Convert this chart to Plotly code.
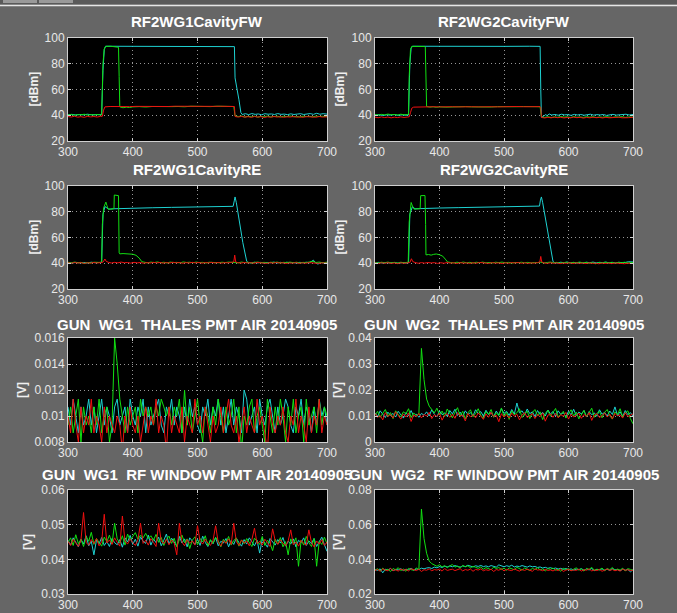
import plotly.graph_objects as go

# ---------------- data ----------------
TITLES = ["RF2WG1CavityFW", "RF2WG2CavityFW", "RF2WG1CavityRE", "RF2WG2CavityRE",
          "GUN\u00a0 WG1\u00a0 THALES PMT AIR 20140905", "GUN\u00a0 WG2\u00a0 THALES PMT AIR 20140905",
          "GUN\u00a0 WG1\u00a0 RF WINDOW PMT AIR 20140905", "GUN\u00a0 WG2\u00a0 RF WINDOW PMT AIR 20140905"]
YLABELS = ["[dBm]", "[dBm]", "[dBm]", "[dBm]", "[V]", "[V]", "[V]", "[V]"]
X_TICKS = [300, 400, 500, 600, 700]
Y_TICKS = [
    ([20, 40, 60, 80, 100], ["20", "40", "60", "80", "100"]),
    ([20, 40, 60, 80, 100], ["20", "40", "60", "80", "100"]),
    ([20, 40, 60, 80, 100], ["20", "40", "60", "80", "100"]),
    ([20, 40, 60, 80, 100], ["20", "40", "60", "80", "100"]),
    ([0.008, 0.010, 0.012, 0.014, 0.016], ["0.008", "0.01", "0.012", "0.014", "0.016"]),
    ([0, 0.01, 0.02, 0.03, 0.04], ["0", "0.01", "0.02", "0.03", "0.04"]),
    ([0.03, 0.04, 0.05, 0.06], ["0.03", "0.04", "0.05", "0.06"]),
    ([0.02, 0.04, 0.06, 0.08], ["0.02", "0.04", "0.06", "0.08"]),
]

# (time, value) samples for the cavity signals
FW1_CYAN = [(300,40.4),(306,40.7),(312,40.2),(318,40.6),(324,40.3),(330,40.8),(336,40.4),(342,40.6),(348,40.3),(352,40.5),(354,75),(356,91),(358,93.6),(380,93.6),(420,93.5),(460,93.6),(500,93.5),(540,93.5),(556,93.5),(557,93.3),(558,69),(560,62),(561,59),(564,52),(567,42),(569,40.6),(574,41.2),(579,40.5),(584,41.3),(589,40.7),(594,41.0),(599,40.4),(604,41.2),(609,40.8),(614,41.0),(619,40.6),(624,41.3),(629,40.7),(634,40.9),(639,40.5),(644,41.1),(649,40.6),(654,40.9),(659,41.2),(664,40.6),(669,40.9),(674,41.3),(679,40.7),(684,41.5),(689,40.8),(694,41.2),(700,40.9)]
FW1_GREEN = [(300,40.2),(305,40.6),(310,40.0),(315,40.5),(320,40.3),(325,40.8),(330,40.1),(335,40.5),(340,40.2),(345,40.6),(350,40.3),(352,40.4),(353,60),(354,80),(356,91.5),(358,93.5),(366,93.6),(372,93.4),(377,93.2),(378,92.8),(379,70),(380,46.5),(385,45.8),(390,46.3),(395,46.0),(400,46.5),(410,46.7),(420,46.4),(430,46.8),(440,46.6),(450,46.9),(460,46.7),(470,46.8),(480,46.6),(490,47.0),(500,46.8),(510,46.9),(520,46.7),(530,47.0),(540,46.8),(550,46.9),(556,46.8),(558,39.5),(563,39.0),(568,39.4),(573,38.6),(578,39.2),(583,38.8),(588,39.3),(593,38.5),(598,39.1),(603,38.8),(608,39.4),(613,38.7),(618,39.0),(623,39.3),(628,38.6),(633,39.2),(638,38.9),(643,39.5),(648,38.8),(653,39.1),(658,38.6),(663,39.3),(668,38.9),(673,39.2),(678,38.7),(683,39.4),(688,39.0),(693,39.2),(700,38.9)]
FW1_RED = [(300,39.0),(305,38.6),(310,39.2),(315,38.5),(320,38.9),(325,38.4),(330,39.1),(335,38.7),(340,39.0),(345,38.6),(350,39.1),(353,39.2),(355,44),(357,46.5),(365,46.8),(375,46.6),(385,46.8),(395,46.7),(405,46.9),(415,46.8),(425,47.0),(435,46.8),(445,46.9),(455,46.8),(465,47.0),(475,46.9),(485,46.8),(495,47.0),(505,46.9),(515,47.0),(525,46.9),(535,47.0),(545,46.9),(556,47.0),(557,46.8),(558,39.0),(563,38.6),(568,39.1),(573,38.5),(578,38.9),(583,38.4),(588,39.0),(593,38.6),(598,38.9),(603,38.3),(608,38.8),(613,38.5),(618,39.0),(623,38.6),(628,38.9),(633,38.4),(638,38.8),(643,38.6),(648,39.0),(653,38.5),(658,38.8),(663,38.4),(668,38.9),(673,38.6),(678,38.8),(683,38.5),(688,39.0),(693,38.6),(700,38.8)]

FW2_CYAN = [(300,40.0),(306,40.4),(312,39.8),(318,40.3),(324,40.1),(330,40.5),(336,39.9),(342,40.3),(348,40.0),(352,40.2),(354,80),(356,92),(358,93.6),(380,93.5),(420,93.6),(460,93.5),(500,93.5),(540,93.6),(556,93.5),(557,60),(558,38.5),(561,39.0),(564,40.5),(567,39.8),(570,41.0),(574,40.2),(579,40.6),(584,40.0),(589,40.8),(594,40.3),(599,40.5),(604,39.9),(609,40.7),(614,40.2),(619,40.6),(624,40.0),(629,40.4),(634,40.8),(639,40.1),(644,40.5),(649,40.2),(654,40.6),(659,39.9),(664,40.4),(669,40.7),(674,40.1),(679,40.5),(684,40.3),(689,40.8),(694,40.2),(700,40.6)]
FW2_GREEN = [(300,40.5),(305,40.1),(310,40.7),(315,40.3),(320,40.9),(325,40.4),(330,40.6),(335,40.2),(340,40.8),(345,40.4),(350,40.6),(352,40.8),(353,70),(355,91),(357,93.5),(365,93.6),(372,93.5),(377,93.4),(378,93.0),(379,70),(380,46.8),(385,46.3),(390,46.6),(395,46.2),(400,46.5),(410,46.3),(420,46.6),(430,46.4),(440,46.7),(450,46.5),(460,46.3),(470,46.6),(480,46.4),(490,46.7),(500,46.5),(510,46.3),(520,46.6),(530,46.8),(540,46.5),(550,46.7),(556,46.6),(558,38.8),(563,38.3),(568,38.9),(573,38.2),(578,38.7),(583,38.4),(588,39.0),(593,38.5),(598,38.8),(603,38.2),(608,38.9),(613,38.4),(618,38.7),(623,38.3),(628,38.9),(633,38.5),(638,38.8),(643,38.2),(648,38.7),(653,38.4),(658,38.9),(663,38.6),(668,38.3),(673,38.8),(678,38.5),(683,38.9),(688,38.3),(693,38.7),(700,38.5)]
FW2_RED = [(300,38.5),(305,38.1),(310,38.7),(315,38.2),(320,38.6),(325,38.0),(330,38.5),(335,38.2),(340,38.7),(345,38.3),(350,38.6),(353,38.8),(355,42),(357,45.5),(360,46.3),(370,46.5),(380,46.4),(390,46.6),(400,46.5),(410,46.7),(420,46.6),(430,46.5),(440,46.7),(450,46.6),(460,46.5),(470,46.7),(480,46.6),(490,46.5),(500,46.7),(510,46.6),(520,46.8),(530,46.6),(540,46.7),(550,46.6),(556,46.7),(557,46.0),(558,38.3),(563,37.9),(568,38.4),(573,38.0),(578,38.5),(583,38.1),(588,38.4),(593,37.9),(598,38.3),(603,38.0),(608,38.5),(613,38.1),(618,38.4),(623,37.8),(628,38.3),(633,38.0),(638,38.5),(643,38.1),(648,38.3),(653,37.9),(658,38.4),(663,38.0),(668,38.3),(673,38.1),(678,38.5),(683,38.0),(688,38.3),(693,38.1),(700,38.4)]

RE1_CYAN = [(300,40.5),(306,40.1),(312,40.7),(318,40.3),(324,40.6),(330,40.2),(336,40.8),(342,40.4),(348,40.6),(352,40.8),(354,78),(357,84),(360,83),(363,82),(370,82.3),(380,82.5),(400,82.8),(430,83.1),(460,83.4),(490,83.6),(520,83.8),(550,84.0),(555,84.2),(557,89),(558,91.5),(560,87),(565,71),(570,56),(576,41.5),(578,40.6),(583,40.2),(588,40.8),(593,40.3),(598,40.7),(603,40.1),(608,40.6),(613,40.4),(618,40.9),(623,40.2),(628,40.7),(633,40.3),(638,40.8),(643,40.4),(648,40.6),(653,40.1),(658,40.7),(663,40.3),(668,40.8),(673,40.4),(679,42.4),(682,40.5),(686,39.3),(690,40.6),(695,40.3),(700,40.7)]
RE1_GREEN = [(300,40.8),(305,40.3),(310,40.9),(315,40.4),(320,40.7),(325,39.8),(330,40.6),(335,40.2),(340,40.8),(345,40.5),(350,40.6),(352,41),(353,70),(355,83),(357,86.5),(358.5,87.5),(360,85),(362,82),(366,82),(371,82.4),(371.5,93),(377,93),(378,92.5),(379,48),(380,47.3),(385,47.5),(390,47.3),(395,47.4),(400,47.0),(405,46.2),(410,44.0),(414,41.2),(418,40.8),(423,40.3),(428,40.9),(433,40.5),(438,41.0),(443,40.4),(448,40.8),(453,40.2),(458,40.9),(463,40.5),(468,40.7),(473,40.3),(478,41.0),(483,40.6),(488,40.8),(493,40.4),(498,40.9),(503,40.5),(508,40.7),(513,40.2),(518,40.8),(523,40.6),(528,40.9),(533,40.4),(538,40.8),(543,40.5),(548,40.9),(553,40.6),(558,40.8),(563,40.3),(568,40.9),(573,40.5),(578,40.8),(583,40.2),(588,40.6),(593,40.9),(598,40.4),(603,40.7),(608,40.2),(613,40.8),(618,40.5),(623,40.9),(628,40.3),(633,40.7),(638,40.5),(643,40.9),(648,40.4),(653,40.8),(658,40.2),(663,40.7),(668,40.5),(673,40.9),(678,41.5),(683,40.6),(688,40.9),(693,40.4),(700,40.8)]
RE1_RED = [(300,40.4),(305,40.0),(310,40.6),(315,40.2),(320,40.5),(325,39.9),(330,40.4),(335,40.1),(340,40.6),(345,40.2),(350,40.5),(354,40.8),(357,43.3),(359,41.5),(362,40.8),(367,40.2),(372,40.7),(377,40.3),(382,40.9),(387,40.4),(392,40.6),(397,40.1),(402,40.7),(407,40.3),(412,40.6),(417,40.0),(422,40.5),(427,40.2),(432,40.7),(437,40.3),(442,40.6),(447,40.1),(452,40.5),(457,40.2),(462,40.8),(467,40.3),(472,40.6),(477,40.0),(482,40.5),(487,40.2),(492,40.7),(497,40.3),(502,40.6),(507,40.1),(512,40.5),(517,40.3),(522,40.7),(527,40.2),(532,40.6),(537,40.1),(542,40.5),(547,40.3),(552,40.7),(556,41),(557.5,46.3),(559,41),(562,40.5),(567,40.1),(572,40.6),(577,40.2),(582,40.5),(587,40.0),(592,40.6),(597,40.2),(602,40.4),(607,39.9),(612,40.5),(617,40.1),(622,40.6),(627,40.2),(632,40.4),(637,39.8),(642,40.3),(647,40.1),(652,40.5),(657,39.9),(662,40.4),(667,40.0),(672,40.5),(677,40.2),(682,40.4),(687,39.9),(692,40.3),(700,40.1)]

RE2_CYAN = [(300,40.3),(306,40.7),(312,40.1),(318,40.5),(324,40.2),(330,40.6),(336,40.0),(342,40.5),(348,40.2),(352,40.4),(354,78),(358,84),(362,82.3),(370,82.5),(380,82.6),(400,82.9),(430,83.2),(460,83.5),(490,83.8),(520,84.0),(550,84.2),(555,84.4),(556.5,89),(558,91.5),(560,87),(565,72),(570,57),(576,41.3),(578,40.6),(583,40.2),(588,40.8),(593,40.4),(598,40.9),(603,40.3),(608,40.7),(613,40.2),(618,40.6),(623,40.1),(628,40.8),(633,40.4),(638,40.9),(643,40.3),(648,40.7),(653,40.5),(658,40.9),(663,40.3),(668,40.7),(673,40.2),(678,40.8),(683,40.4),(688,40.6),(693,41.2),(700,41.0)]
RE2_GREEN = [(300,40.6),(305,40.2),(310,40.8),(315,40.4),(320,40.9),(325,40.3),(330,40.7),(335,40.1),(340,40.8),(345,40.4),(350,40.7),(351.5,41),(353,72),(354.5,84),(356,87.2),(358,84.5),(360.5,82),(365,82.2),(370,82.4),(370.8,92.5),(377.5,92.6),(378.5,70),(379,46.5),(383,46.8),(387,46.3),(391,46.9),(395,47.2),(400,46.6),(405,45.5),(409,43.2),(412.5,41),(417,40.6),(422,40.2),(427,40.8),(432,40.4),(437,40.9),(442,40.3),(447,40.7),(452,40.1),(457,40.8),(462,40.4),(467,40.9),(472,40.3),(477,40.6),(482,40.2),(487,40.8),(492,40.5),(497,40.9),(502,40.3),(507,40.7),(512,40.1),(517,40.6),(522,40.4),(527,40.8),(532,40.3),(537,40.7),(542,40.2),(547,40.6),(552,40.4),(557,40.8),(562,40.2),(567,40.6),(572,40.9),(577,40.3),(582,40.7),(587,40.1),(592,40.5),(597,40.8),(602,40.2),(607,40.6),(612,40.3),(617,40.9),(622,40.4),(627,40.7),(632,40.1),(637,40.5),(642,39.6),(647,40.6),(652,40.2),(657,40.8),(662,40.3),(667,40.7),(672,40.1),(677,40.6),(682,40.4),(687,40.8),(692,40.2),(700,40.6)]
RE2_RED = [(300,40.2),(305,39.8),(310,40.4),(315,40.0),(320,40.5),(325,39.9),(330,40.3),(335,39.7),(340,40.4),(345,40.0),(350,40.3),(354,40.6),(356.5,43.5),(358.5,41.3),(362,40.6),(367,40.0),(372,40.5),(377,40.1),(382,40.6),(387,40.2),(392,40.5),(397,39.9),(402,40.4),(407,40.0),(412,40.6),(417,40.1),(422,40.4),(427,39.8),(432,40.5),(437,40.1),(442,40.3),(447,39.9),(452,40.4),(457,40.0),(462,40.6),(467,40.2),(472,40.4),(477,39.9),(482,40.5),(487,40.1),(492,40.3),(497,39.8),(502,40.4),(507,40.0),(512,40.5),(517,40.2),(522,40.6),(527,40.0),(532,40.4),(537,39.9),(542,40.3),(547,40.1),(552,40.5),(555.5,41),(557,45.3),(558.5,41),(562,40.3),(567,39.9),(572,40.4),(577,40.0),(582,40.3),(587,39.7),(592,40.2),(597,39.9),(602,40.4),(607,39.8),(612,40.3),(617,39.9),(622,40.2),(627,39.7),(632,40.3),(637,39.9),(642,40.1),(647,39.6),(652,40.2),(657,39.8),(662,40.1),(667,39.7),(672,40.2),(677,39.9),(682,40.1),(687,39.6),(692,40.0),(700,39.8)]

# PMT signals sampled every 4 time units from 300 to 700
PMT_T = list(range(300, 701, 4))

TH1_CYAN = [0.0107,0.0093,0.0113,0.0100,0.0087,0.0107,0.0093,0.0100,0.0113,0.0093,
            0.0107,0.0087,0.0100,0.0113,0.0093,0.0107,0.0100,0.0087,0.0107,0.0113,
            0.0093,0.0100,0.0107,0.0087,0.0113,0.0100,0.0093,0.0107,0.0100,0.0113,
            0.0087,0.0107,0.0093,0.0100,0.0107,0.0113,0.0093,0.0087,0.0107,0.0100,
            0.0113,0.0093,0.0107,0.0100,0.0087,0.0107,0.0093,0.0113,0.0100,0.0107,
            0.0093,0.0087,0.0107,0.0100,0.0113,0.0093,0.0107,0.0100,0.0113,0.0093,
            0.0107,0.0087,0.0100,0.0113,0.0093,0.0107,0.0100,0.0087,0.0120,0.0113,
            0.0093,0.0100,0.0107,0.0087,0.0113,0.0100,0.0093,0.0107,0.0113,0.0100,
            0.0087,0.0107,0.0093,0.0100,0.0113,0.0107,0.0093,0.0087,0.0107,0.0100,
            0.0113,0.0093,0.0107,0.0100,0.0087,0.0107,0.0093,0.0113,0.0100,0.0107,0.0093]
TH1_GREEN = [0.0093,0.0107,0.0087,0.0100,0.0113,0.0080,0.0107,0.0093,0.0100,0.0087,
             0.0107,0.0093,0.0113,0.0087,0.0100,0.0107,0.0080,0.0093,0.0160,0.0140,
             0.0113,0.0100,0.0087,0.0107,0.0093,0.0100,0.0107,0.0087,0.0113,0.0100,
             0.0107,0.0100,0.0107,0.0093,0.0107,0.0100,0.0113,0.0107,0.0100,0.0107,
             0.0093,0.0107,0.0100,0.0113,0.0087,0.0120,0.0093,0.0107,0.0087,0.0100,
             0.0113,0.0093,0.0080,0.0107,0.0100,0.0087,0.0107,0.0093,0.0113,0.0100,
             0.0087,0.0107,0.0093,0.0100,0.0113,0.0087,0.0107,0.0073,0.0100,0.0093,
             0.0107,0.0113,0.0087,0.0100,0.0107,0.0093,0.0080,0.0113,0.0100,0.0087,
             0.0107,0.0093,0.0113,0.0100,0.0080,0.0107,0.0093,0.0113,0.0087,0.0100,
             0.0107,0.0080,0.0113,0.0093,0.0100,0.0107,0.0087,0.0113,0.0093,0.0107,0.0100]
TH1_RED = [0.0100,0.0087,0.0113,0.0093,0.0080,0.0107,0.0087,0.0100,0.0093,0.0113,
           0.0087,0.0100,0.0093,0.0080,0.0107,0.0087,0.0100,0.0093,0.0087,0.0100,
           0.0093,0.0073,0.0100,0.0087,0.0107,0.0093,0.0087,0.0100,0.0080,0.0093,
           0.0107,0.0087,0.0100,0.0093,0.0113,0.0087,0.0100,0.0093,0.0073,0.0107,
           0.0087,0.0100,0.0093,0.0087,0.0107,0.0080,0.0100,0.0093,0.0087,0.0113,
           0.0093,0.0100,0.0087,0.0107,0.0093,0.0080,0.0100,0.0087,0.0093,0.0107,
           0.0087,0.0100,0.0113,0.0093,0.0087,0.0100,0.0080,0.0093,0.0107,0.0087,
           0.0100,0.0093,0.0087,0.0113,0.0093,0.0100,0.0087,0.0073,0.0107,0.0093,
           0.0087,0.0100,0.0093,0.0107,0.0087,0.0080,0.0100,0.0093,0.0113,0.0087,
           0.0100,0.0093,0.0080,0.0107,0.0087,0.0100,0.0093,0.0113,0.0087,0.0100,0.0093]

TH2_CYAN = [0.0112,0.0098,0.0120,0.0105,0.0094,0.0115,0.0102,0.0110,0.0096,0.0118,
            0.0104,0.0092,0.0113,0.0100,0.0121,0.0098,0.0108,0.0095,0.0110,0.0103,
            0.0116,0.0100,0.0124,0.0107,0.0097,0.0119,0.0105,0.0112,0.0099,0.0121,
            0.0108,0.0126,0.0102,0.0115,0.0098,0.0120,0.0106,0.0113,0.0101,0.0124,
            0.0109,0.0117,0.0100,0.0122,0.0106,0.0113,0.0097,0.0119,0.0104,0.0128,
            0.0110,0.0118,0.0102,0.0125,0.0107,0.0150,0.0112,0.0120,0.0103,0.0127,
            0.0109,0.0116,0.0098,0.0121,0.0105,0.0114,0.0100,0.0123,0.0108,0.0117,
            0.0099,0.0120,0.0106,0.0113,0.0097,0.0118,0.0104,0.0126,0.0101,0.0115,
            0.0108,0.0121,0.0096,0.0117,0.0105,0.0112,0.0099,0.0124,0.0107,0.0114,
            0.0100,0.0119,0.0106,0.0135,0.0102,0.0116,0.0098,0.0121,0.0105,0.0113,0.0100]
TH2_GREEN = [0.0102,0.0118,0.0095,0.0110,0.0125,0.0099,0.0113,0.0090,0.0120,0.0105,
             0.0097,0.0116,0.0108,0.0128,0.0094,0.0112,0.0101,0.0108,0.0360,0.0240,
             0.0165,0.0138,0.0125,0.0112,0.0130,0.0104,0.0119,0.0098,0.0127,0.0108,
             0.0093,0.0115,0.0132,0.0100,0.0118,0.0089,0.0112,0.0124,0.0097,0.0110,
             0.0128,0.0103,0.0091,0.0117,0.0106,0.0125,0.0095,0.0113,0.0101,0.0131,
             0.0098,0.0115,0.0087,0.0120,0.0105,0.0112,0.0128,0.0094,0.0109,0.0119,
             0.0090,0.0113,0.0125,0.0101,0.0116,0.0086,0.0110,0.0122,0.0099,0.0114,
             0.0129,0.0096,0.0108,0.0118,0.0092,0.0111,0.0124,0.0100,0.0115,0.0089,
             0.0107,0.0121,0.0097,0.0112,0.0130,0.0095,0.0110,0.0118,0.0093,0.0114,
             0.0125,0.0101,0.0088,0.0116,0.0106,0.0128,0.0097,0.0111,0.0120,0.0090,0.0070]
TH2_RED = [0.0110,0.0095,0.0102,0.0085,0.0113,0.0098,0.0106,0.0092,0.0116,0.0100,
           0.0088,0.0108,0.0096,0.0112,0.0079,0.0104,0.0097,0.0110,0.0093,0.0106,
           0.0100,0.0114,0.0090,0.0105,0.0098,0.0111,0.0084,0.0103,0.0109,0.0095,
           0.0107,0.0091,0.0113,0.0099,0.0104,0.0081,0.0110,0.0096,0.0106,0.0093,
           0.0112,0.0100,0.0087,0.0108,0.0095,0.0114,0.0098,0.0103,0.0078,0.0109,
           0.0096,0.0105,0.0092,0.0111,0.0099,0.0107,0.0085,0.0104,0.0113,0.0094,
           0.0102,0.0109,0.0090,0.0106,0.0097,0.0112,0.0080,0.0103,0.0108,0.0095,
           0.0110,0.0093,0.0105,0.0099,0.0114,0.0088,0.0107,0.0096,0.0102,0.0111,
           0.0091,0.0106,0.0098,0.0113,0.0083,0.0104,0.0109,0.0094,0.0101,0.0112,
           0.0096,0.0107,0.0089,0.0110,0.0100,0.0105,0.0092,0.0113,0.0098,0.0103,0.0108]

RW1_CYAN = [0.0455,0.0441,0.0462,0.0447,0.0436,0.0458,0.0444,0.0468,0.0439,0.0452,
            0.0413,0.0456,0.0445,0.0463,0.0440,0.0451,0.0437,0.0460,0.0448,0.0442,
            0.0457,0.0435,0.0462,0.0450,0.0469,0.0443,0.0458,0.0438,0.0465,0.0452,
            0.0446,0.0470,0.0441,0.0459,0.0448,0.0464,0.0439,0.0455,0.0473,0.0444,
            0.0461,0.0450,0.0438,0.0466,0.0447,0.0459,0.0436,0.0462,0.0451,0.0443,
            0.0458,0.0440,0.0467,0.0449,0.0437,0.0455,0.0445,0.0463,0.0439,0.0452,
            0.0447,0.0460,0.0436,0.0454,0.0443,0.0461,0.0448,0.0438,0.0457,0.0444,
            0.0462,0.0450,0.0439,0.0455,0.0418,0.0458,0.0446,0.0435,0.0460,0.0449,
            0.0441,0.0457,0.0447,0.0463,0.0438,0.0452,0.0444,0.0459,0.0436,0.0455,
            0.0448,0.0462,0.0440,0.0453,0.0445,0.0460,0.0437,0.0451,0.0464,0.0442,0.0423]
RW1_GREEN = [0.0448,0.0462,0.0440,0.0471,0.0445,0.0458,0.0437,0.0466,0.0452,0.0478,
             0.0443,0.0460,0.0449,0.0438,0.0464,0.0451,0.0470,0.0445,0.0504,0.0459,
             0.0447,0.0468,0.0441,0.0473,0.0455,0.0466,0.0477,0.0458,0.0470,0.0462,
             0.0475,0.0460,0.0468,0.0455,0.0472,0.0449,0.0463,0.0440,0.0458,0.0467,
             0.0446,0.0461,0.0436,0.0457,0.0470,0.0448,0.0459,0.0431,0.0455,0.0465,
             0.0442,0.0460,0.0450,0.0468,0.0439,0.0457,0.0446,0.0463,0.0453,0.0436,
             0.0458,0.0447,0.0466,0.0441,0.0454,0.0462,0.0438,0.0456,0.0445,0.0460,
             0.0449,0.0437,0.0461,0.0452,0.0443,0.0466,0.0440,0.0455,0.0447,0.0425,
             0.0458,0.0444,0.0463,0.0436,0.0451,0.0413,0.0459,0.0446,0.0462,0.0380,
             0.0455,0.0441,0.0466,0.0448,0.0437,0.0460,0.0380,0.0452,0.0443,0.0464,0.0445]
RW1_RED = [0.0452,0.0440,0.0458,0.0446,0.0437,0.0455,0.0535,0.0448,0.0441,0.0457,
           0.0445,0.0460,0.0439,0.0451,0.0530,0.0447,0.0456,0.0443,0.0462,0.0449,
           0.0438,0.0525,0.0453,0.0444,0.0459,0.0448,0.0440,0.0456,0.0504,0.0446,
           0.0455,0.0441,0.0460,0.0449,0.0437,0.0504,0.0452,0.0445,0.0458,0.0442,
           0.0456,0.0447,0.0413,0.0504,0.0450,0.0439,0.0457,0.0446,0.0453,0.0441,
           0.0497,0.0452,0.0444,0.0458,0.0447,0.0440,0.0455,0.0497,0.0449,0.0438,
           0.0454,0.0446,0.0459,0.0443,0.0504,0.0451,0.0440,0.0456,0.0447,0.0453,
           0.0439,0.0457,0.0490,0.0445,0.0452,0.0441,0.0458,0.0448,0.0437,0.0488,
           0.0454,0.0443,0.0456,0.0447,0.0439,0.0453,0.0485,0.0442,0.0450,0.0438,
           0.0455,0.0446,0.0441,0.0485,0.0449,0.0436,0.0453,0.0444,0.0457,0.0440,0.0450]

RW2_CYAN = [0.0341,0.0336,0.0345,0.0322,0.0343,0.0338,0.0347,0.0334,0.0342,0.0339,
            0.0346,0.0335,0.0343,0.0340,0.0348,0.0337,0.0344,0.0341,0.0349,0.0345,
            0.0350,0.0352,0.0347,0.0355,0.0351,0.0358,0.0353,0.0360,0.0356,0.0362,
            0.0357,0.0364,0.0359,0.0355,0.0362,0.0358,0.0366,0.0360,0.0356,0.0363,
            0.0359,0.0365,0.0358,0.0362,0.0357,0.0364,0.0360,0.0355,0.0368,0.0361,
            0.0357,0.0363,0.0359,0.0366,0.0356,0.0361,0.0358,0.0364,0.0360,0.0355,
            0.0362,0.0357,0.0359,0.0353,0.0356,0.0350,0.0354,0.0348,0.0352,0.0346,
            0.0350,0.0344,0.0348,0.0342,0.0347,0.0340,0.0345,0.0338,0.0343,0.0341,
            0.0346,0.0337,0.0344,0.0339,0.0347,0.0335,0.0342,0.0340,0.0345,0.0338,
            0.0343,0.0336,0.0346,0.0339,0.0341,0.0334,0.0344,0.0337,0.0342,0.0328,0.0340]
RW2_GREEN = [0.0338,0.0346,0.0333,0.0349,0.0336,0.0343,0.0330,0.0347,0.0339,0.0352,
             0.0335,0.0344,0.0331,0.0348,0.0340,0.0337,0.0350,0.0341,0.0690,0.0520,
             0.0435,0.0390,0.0375,0.0366,0.0360,0.0369,0.0356,0.0364,0.0352,0.0362,
             0.0370,0.0355,0.0361,0.0349,0.0365,0.0357,0.0363,0.0351,0.0360,0.0354,
             0.0348,0.0356,0.0343,0.0352,0.0346,0.0340,0.0355,0.0347,0.0353,0.0341,
             0.0349,0.0337,0.0351,0.0345,0.0340,0.0354,0.0346,0.0338,0.0350,0.0343,
             0.0336,0.0348,0.0341,0.0352,0.0339,0.0345,0.0333,0.0347,0.0342,0.0350,
             0.0337,0.0344,0.0331,0.0349,0.0340,0.0346,0.0335,0.0343,0.0351,0.0338,
             0.0345,0.0332,0.0348,0.0341,0.0354,0.0336,0.0343,0.0339,0.0350,0.0334,
             0.0347,0.0340,0.0353,0.0336,0.0344,0.0338,0.0349,0.0333,0.0346,0.0342,0.0337]
RW2_RED = [0.0336,0.0342,0.0331,0.0345,0.0338,0.0334,0.0348,0.0335,0.0340,0.0332,
           0.0344,0.0337,0.0341,0.0333,0.0346,0.0339,0.0335,0.0343,0.0330,0.0340,
           0.0337,0.0345,0.0334,0.0341,0.0338,0.0344,0.0332,0.0347,0.0336,0.0340,
           0.0343,0.0335,0.0339,0.0346,0.0333,0.0341,0.0337,0.0344,0.0331,0.0342,
           0.0338,0.0345,0.0334,0.0340,0.0336,0.0343,0.0330,0.0341,0.0337,0.0346,
           0.0333,0.0342,0.0338,0.0335,0.0344,0.0339,0.0332,0.0341,0.0336,0.0343,
           0.0337,0.0331,0.0345,0.0338,0.0340,0.0334,0.0342,0.0336,0.0339,0.0333,
           0.0341,0.0335,0.0344,0.0330,0.0338,0.0342,0.0334,0.0339,0.0336,0.0343,
           0.0332,0.0340,0.0337,0.0345,0.0333,0.0339,0.0335,0.0342,0.0331,0.0338,
           0.0344,0.0336,0.0341,0.0334,0.0339,0.0332,0.0343,0.0337,0.0340,0.0335,0.0338]

for arr in [TH1_CYAN, TH1_GREEN, TH1_RED, TH2_CYAN, TH2_GREEN, TH2_RED,
            RW1_CYAN, RW1_GREEN, RW1_RED, RW2_CYAN, RW2_GREEN, RW2_RED]:
    assert len(arr) == len(PMT_T), len(arr)

Y_RANGES = [(20, 100), (20, 100), (20, 100), (20, 100), (0.008, 0.016), (0, 0.04), (0.03, 0.06), (0.02, 0.08)]

# ---------------- styling / layout ----------------
W, H = 677, 613
CYAN, GREEN, RED = "#1ed2d2", "#12e012", "#f01010"
BG = "#666666"
FONT = "Liberation Sans, Arial, Helvetica, sans-serif"
COLS = [(68, 327), (375, 633)]
ROWS = [(38, 141), (186, 289), (338, 442), (490, 594)]
TITLE_Y = [21, 169, 324, 474]
YLAB_X = [(33, 339), (33, 339), (22, 338), (28, 338)]


def pairs_xy(p):
    return [a for a, _ in p], [b for _, b in p]


fig = go.Figure()
panel_traces = [
    [pairs_xy(FW1_CYAN), pairs_xy(FW1_GREEN), pairs_xy(FW1_RED)],
    [pairs_xy(FW2_CYAN), pairs_xy(FW2_GREEN), pairs_xy(FW2_RED)],
    [pairs_xy(RE1_CYAN), pairs_xy(RE1_GREEN), pairs_xy(RE1_RED)],
    [pairs_xy(RE2_CYAN), pairs_xy(RE2_GREEN), pairs_xy(RE2_RED)],
    [(PMT_T, TH1_CYAN), (PMT_T, TH1_GREEN), (PMT_T, TH1_RED)],
    [(PMT_T, TH2_CYAN), (PMT_T, TH2_GREEN), (PMT_T, TH2_RED)],
    [(PMT_T, RW1_CYAN), (PMT_T, RW1_GREEN), (PMT_T, RW1_RED)],
    [(PMT_T, RW2_CYAN), (PMT_T, RW2_GREEN), (PMT_T, RW2_RED)],
]

layout = dict(width=W, height=H, autosize=False, margin=dict(l=0, r=0, t=0, b=0, pad=0),
              paper_bgcolor=BG, plot_bgcolor="black", showlegend=False,
              font=dict(family=FONT, color="#e8e8e8", size=12))
annotations = []
axis_common = dict(showgrid=True, gridcolor="rgba(200,200,200,0.75)", griddash="1px,3px", gridwidth=1,
                   showline=True, linecolor="#cfcfcf", linewidth=1, mirror="ticks",
                   ticks="inside", ticklen=3, tickcolor="#cfcfcf", zeroline=False, automargin=False,
                   tickfont=dict(family=FONT, size=12, color="#e8e8e8"), fixedrange=True)

for k in range(8):
    r, c = divmod(k, 2)
    x0, x1 = COLS[c]
    y0, y1 = ROWS[r]
    n = "" if k == 0 else str(k + 1)
    xa, ya = "x" + n, "y" + n
    layout["xaxis" + n] = dict(axis_common, domain=[x0 / W, x1 / W], anchor=ya,
                               range=[300, 700], tickvals=X_TICKS, ticktext=[str(v) for v in X_TICKS])
    tv, tt = Y_TICKS[k]
    layout["yaxis" + n] = dict(axis_common, domain=[1 - y1 / H, 1 - y0 / H], anchor=xa,
                               range=list(Y_RANGES[k]), tickvals=tv, ticktext=tt)
    for (xs, ys), col in zip(panel_traces[k], [CYAN, GREEN, RED]):
        fig.add_trace(go.Scatter(x=xs, y=ys, mode="lines", line=dict(color=col, width=1),
                                 xaxis=xa, yaxis=ya, hoverinfo="skip"))
    annotations.append(dict(text="<b>" + TITLES[k] + "</b>", xref="paper", yref="paper",
                            x=(x0 + x1) / 2 / W, y=1 - TITLE_Y[r] / H, xanchor="center", yanchor="middle",
                            showarrow=False, font=dict(family=FONT, size=15, color="white")))
    annotations.append(dict(text="<b>" + YLABELS[k] + "</b>", xref="paper", yref="paper",
                            x=YLAB_X[r][c] / W, y=1 - (y0 + y1) / 2 / H, xanchor="center", yanchor="middle",
                            textangle=-90, showarrow=False, font=dict(family=FONT, size=12, color="#f0f0f0")))

shapes = [
    dict(type="rect", xref="paper", yref="paper", x0=0, x1=1, y0=1 - 4 / H, y1=1,
         fillcolor="#5a5a5a", line=dict(width=0), layer="below"),
    dict(type="rect", xref="paper", yref="paper", x0=3 / W, x1=37 / W, y0=1 - 3 / H, y1=1,
         fillcolor="#9a9a9a", line=dict(width=0)),
    dict(type="rect", xref="paper", yref="paper", x0=39 / W, x1=73 / W, y0=1 - 3 / H, y1=1,
         fillcolor="#9a9a9a", line=dict(width=0)),
    dict(type="line", xref="paper", yref="paper", x0=0, x1=1, y0=1 - 5.5 / H, y1=1 - 5.5 / H,
         line=dict(color="#e6e6e6", width=1.5)),
]
layout["annotations"] = annotations
layout["shapes"] = shapes
fig.update_layout(**layout)

PAGE_FIX = ("document.documentElement.style.margin='0';document.documentElement.style.padding='0';"
            "document.documentElement.style.overflow='hidden';"
            "document.body.style.margin='0';document.body.style.padding='0';"
            "document.body.style.overflow='hidden';document.body.style.background='#666666';")
fig.write_html("out.html", post_script=PAGE_FIX, config={"responsive": False, "displayModeBar": False})
